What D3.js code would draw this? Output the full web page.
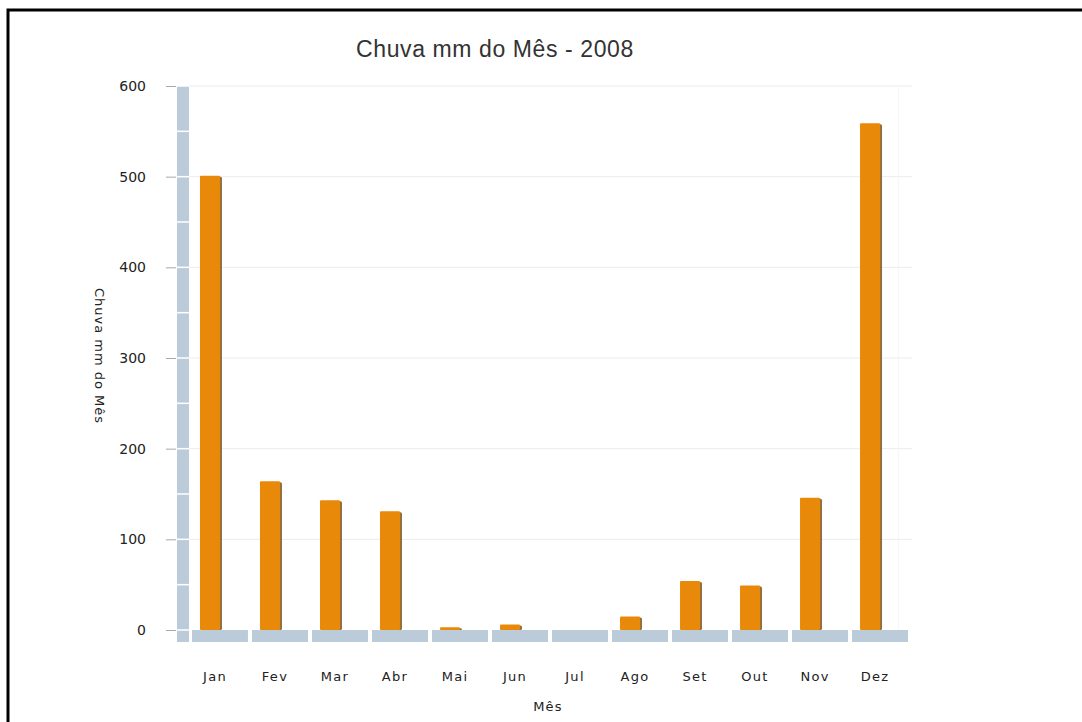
<!DOCTYPE html>
<html>
<head>
<meta charset="utf-8">
<script src="https://cdn.jsdelivr.net/npm/d3@7"></script>
<style>
  html, body { margin: 0; padding: 0; background: #fff; }
  svg { display: block; }
</style>
</head>
<body>
<svg id="chart" width="1082" height="722"></svg>
<script>
const months = ["Jan","Fev","Mar","Abr","Mai","Jun","Jul","Ago","Set","Out","Nov","Dez"];
const rainfall = [501, 164, 143, 131, 3, 6, 0, 15, 54, 49, 146, 559];
const yTicks = [0, 100, 200, 300, 400, 500, 600];
const minorTicks = [0, 50, 100, 150, 200, 250, 300, 350, 400, 450, 500, 550, 600];
const chartTitle = "Chuva mm do Mês - 2008";
const yTitle = "Chuva mm do Mês";
const xTitle = "Mês";

const data = months.map((m, i) => ({ month: m, value: rainfall[i] }));

const svg = d3.select("#chart");

// outer frame
svg.append("rect")
  .attr("x", 8).attr("y", 10).attr("width", 1100).attr("height", 800)
  .attr("fill", "none").attr("stroke", "#000").attr("stroke-width", 3);

const y = d3.scaleLinear().domain([0, 600]).range([630, 86]);
const x = d3.scaleBand().domain(months).range([190, 910]).paddingInner(0.067).paddingOuter(0.033);

const bandColor = "#bccbda";

// gridlines
svg.append("g").selectAll("line").data(yTicks.filter(v => v > 0)).join("line")
  .attr("x1", 189).attr("x2", 912)
  .attr("y1", d => y(d)).attr("y2", d => y(d))
  .attr("stroke", "#ececec").attr("stroke-width", 1);

// faint right border
svg.append("line")
  .attr("x1", 898.5).attr("x2", 898.5).attr("y1", y(600)).attr("y2", 630)
  .attr("stroke", "#f6f6f6").attr("stroke-width", 1);

// left axis band
svg.append("rect")
  .attr("x", 177).attr("y", y(600)).attr("width", 12).attr("height", 642 - y(600))
  .attr("fill", bandColor);
svg.append("g").selectAll("line").data(minorTicks).join("line")
  .attr("x1", 177).attr("x2", 189)
  .attr("y1", d => y(d)).attr("y2", d => y(d))
  .attr("stroke", "#fff").attr("stroke-width", 1.5);

// bottom band segments
svg.append("g").selectAll("rect").data(months).join("rect")
  .attr("x", d => x(d)).attr("y", y(0)).attr("width", x.bandwidth()).attr("height", 12)
  .attr("fill", bandColor);

// y axis
const yAxis = svg.append("g")
  .attr("transform", "translate(176,0)")
  .call(d3.axisLeft(y).tickValues(yTicks).tickSize(10).tickPadding(20).tickFormat(d3.format("d")));
yAxis.select(".domain").remove();
yAxis.selectAll(".tick line").attr("stroke", "#a8a8a8");
yAxis.selectAll(".tick text")
  .attr("font-family", "DejaVu Sans, Verdana, sans-serif")
  .attr("font-size", 14).attr("fill", "#222");

// bars
const bars = svg.append("g");
const barW = 20, barOff = 8;
bars.selectAll(".shadow").data(data.filter(d => d.value > 0)).join("rect")
  .attr("class", "shadow")
  .attr("x", d => x(d.month) + barOff + 2)
  .attr("y", d => y(d.value) + 1)
  .attr("width", barW)
  .attr("height", d => y(0) - y(d.value) - 1)
  .attr("rx", 1.5)
  .attr("fill", "#94703f");
bars.selectAll(".bar").data(data.filter(d => d.value > 0)).join("rect")
  .attr("class", "bar")
  .attr("x", d => x(d.month) + barOff)
  .attr("y", d => y(d.value))
  .attr("width", barW)
  .attr("height", d => y(0) - y(d.value))
  .attr("rx", 1)
  .attr("fill", "#e8890a");

// x axis labels
const xAxis = svg.append("g")
  .attr("transform", "translate(-5,642)")
  .call(d3.axisBottom(x).tickSize(0).tickPadding(0));
xAxis.select(".domain").remove();
xAxis.selectAll(".tick text")
  .attr("dy", null).attr("y", 39)
  .attr("font-family", "DejaVu Sans, Verdana, sans-serif")
  .attr("font-size", 13).attr("letter-spacing", "1.3px")
  .attr("fill", "#222");

// titles
svg.append("text")
  .attr("x", 495).attr("y", 57)
  .attr("text-anchor", "middle")
  .attr("font-family", "Liberation Sans, Arial, sans-serif")
  .attr("font-size", 23).attr("letter-spacing", "0.6px")
  .attr("fill", "#333")
  .text(chartTitle);

svg.append("text")
  .attr("transform", "translate(95,356) rotate(90)")
  .attr("text-anchor", "middle")
  .attr("font-family", "DejaVu Sans, Verdana, sans-serif")
  .attr("font-size", 13).attr("letter-spacing", "1px")
  .attr("fill", "#222")
  .text(yTitle);

svg.append("text")
  .attr("x", 548).attr("y", 711)
  .attr("text-anchor", "middle")
  .attr("font-family", "DejaVu Sans, Verdana, sans-serif")
  .attr("font-size", 13).attr("letter-spacing", "1.2px")
  .attr("fill", "#222")
  .text(xTitle);
</script>
</body>
</html>
